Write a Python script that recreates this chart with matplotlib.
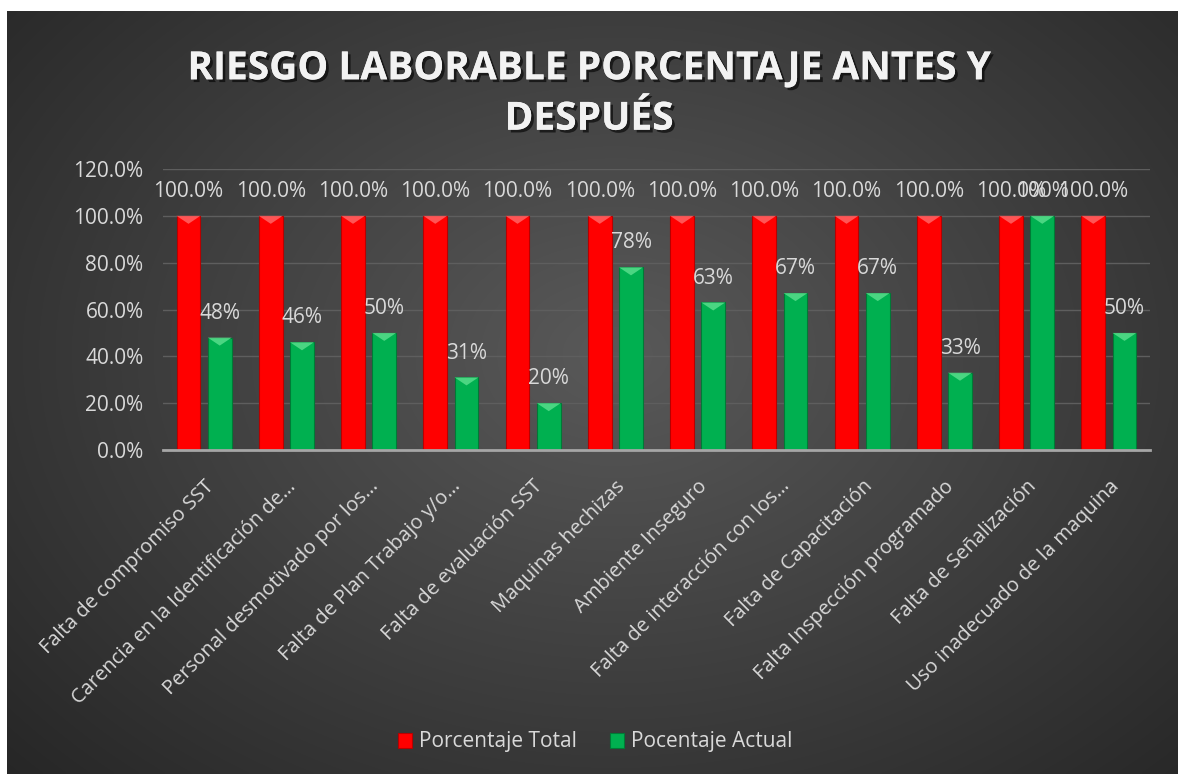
import matplotlib
matplotlib.use('Agg')
import matplotlib.pyplot as plt
import matplotlib.patheffects as pe
from matplotlib.patches import Polygon
from matplotlib.ticker import FuncFormatter
import numpy as np

plt.rcParams['font.family'] = ['Open Sans', 'DejaVu Sans']

categorias = ['Falta de compromiso SST',
              'Carencia en la Identificación de…',
              'Personal desmotivado por los…',
              'Falta de Plan Trabajo y/o…',
              'Falta de evaluación SST',
              'Maquinas hechizas',
              'Ambiente Inseguro',
              'Falta de interacción con los…',
              'Falta de Capacitación',
              'Falta Inspección programado',
              'Falta de Señalización',
              'Uso inadecuado de la maquina']
porcentaje_total = [1.0] * 12
porcentaje_actual = [0.48, 0.46, 0.50, 0.31, 0.20, 0.78,
                     0.63, 0.67, 0.67, 0.33, 1.00, 0.50]
y_ticks = [0.0, 0.2, 0.4, 0.6, 0.8, 1.0, 1.2]

W, H = 1178, 774
fig = plt.figure(figsize=(W / 100, H / 100), dpi=100)
fig.patch.set_facecolor('white')

# dark radial gradient background
bg = fig.add_axes([7 / W, 0, 1 - 7 / W, 1 - 11 / H], zorder=-10)
gx, gy = np.meshgrid(np.linspace(0, 1, 400), np.linspace(0, 1, 300))
r = np.sqrt(((gx - 0.52) / 0.75) ** 2 + ((gy - 0.55) / 0.85) ** 2)
shade = np.clip(0.35 - 0.21 * r, 0.15, 0.35)
bg.imshow(np.dstack([shade] * 3), extent=[0, 1, 0, 1], aspect='auto',
          origin='lower', interpolation='bicubic')
bg.set_axis_off()

ax = fig.add_axes([163 / W, 324 / H, 987 / W, 281 / H])
ax.set_facecolor('none')

x = np.arange(len(categorias))
bw = 0.29
off = 0.19
red_bars = ax.bar(x - off, porcentaje_total, bw, color='#FF0000',
                  edgecolor='#B80000', linewidth=0.8, zorder=3,
                  label='Porcentaje Total')
green_bars = ax.bar(x + off, porcentaje_actual, bw, color='#00B050',
                    edgecolor='#007A36', linewidth=0.8, zorder=3,
                    label='Pocentaje Actual')

ax.set_xlim(-0.5, len(categorias) - 0.5)
ax.set_ylim(0, 1.2)
ax.set_yticks(y_ticks)
ax.yaxis.set_major_formatter(FuncFormatter(lambda v, p: '{:.1f}%'.format(v * 100)))
ax.grid(axis='y', color='#5E5E5E', linewidth=1, zorder=0)
ax.set_axisbelow(True)
for s in ['top', 'right', 'left']:
    ax.spines[s].set_visible(False)
ax.spines['bottom'].set_color('#A6A6A6')
ax.spines['bottom'].set_linewidth(2)
ax.spines['bottom'].set_zorder(4)
ax.tick_params(axis='both', length=0, colors='#D9D9D9', labelsize=15)
ax.tick_params(axis='y', pad=14)
ax.set_xticks(x)
ax.set_xticklabels(categorias, rotation=45, ha='right',
                   rotation_mode='anchor', fontsize=14.5)
ax.tick_params(axis='x', pad=19)

# bevel highlight at bar tops
fig.canvas.draw()
dy = (ax.transData.inverted().transform((0, 0))[1]
      - ax.transData.inverted().transform((0, 8))[1])
for bars, light in [(red_bars, '#FF6B6B'), (green_bars, '#5EE08F')]:
    for b in bars:
        x0, top, w = b.get_x(), b.get_height(), b.get_width()
        ax.add_patch(Polygon([(x0, top), (x0 + w, top), (x0 + w / 2, top + dy)],
                             closed=True, facecolor=light, edgecolor='none',
                             alpha=0.8, zorder=4))

ax.bar_label(red_bars, labels=['{:.1f}%'.format(v * 100) for v in porcentaje_total],
             padding=10, color='#D9D9D9', fontsize=15)
ax.bar_label(green_bars, labels=['{:.0f}%'.format(v * 100) for v in porcentaje_actual],
             padding=10, color='#D9D9D9', fontsize=15)

fig.text(0.5, 1 - 94 / H, 'RIESGO LABORABLE PORCENTAJE ANTES Y\nDESPUÉS',
         ha='center', va='center', fontsize=28, fontweight='bold',
         color='#F2F2F2', linespacing=1.38,
         path_effects=[pe.withSimplePatchShadow(offset=(2, -2), shadow_rgbFace='black',
                                                alpha=0.6), pe.Normal()])

leg = fig.legend(handles=[red_bars, green_bars], loc='center',
                 bbox_to_anchor=(0.505, 1 - 742 / H), ncol=2, frameon=False,
                 fontsize=15, handlelength=0.7, handleheight=0.7,
                 handletextpad=0.3, columnspacing=1.6)
for t in leg.get_texts():
    t.set_color('#D9D9D9')

fig.savefig('out.png', dpi=100)
